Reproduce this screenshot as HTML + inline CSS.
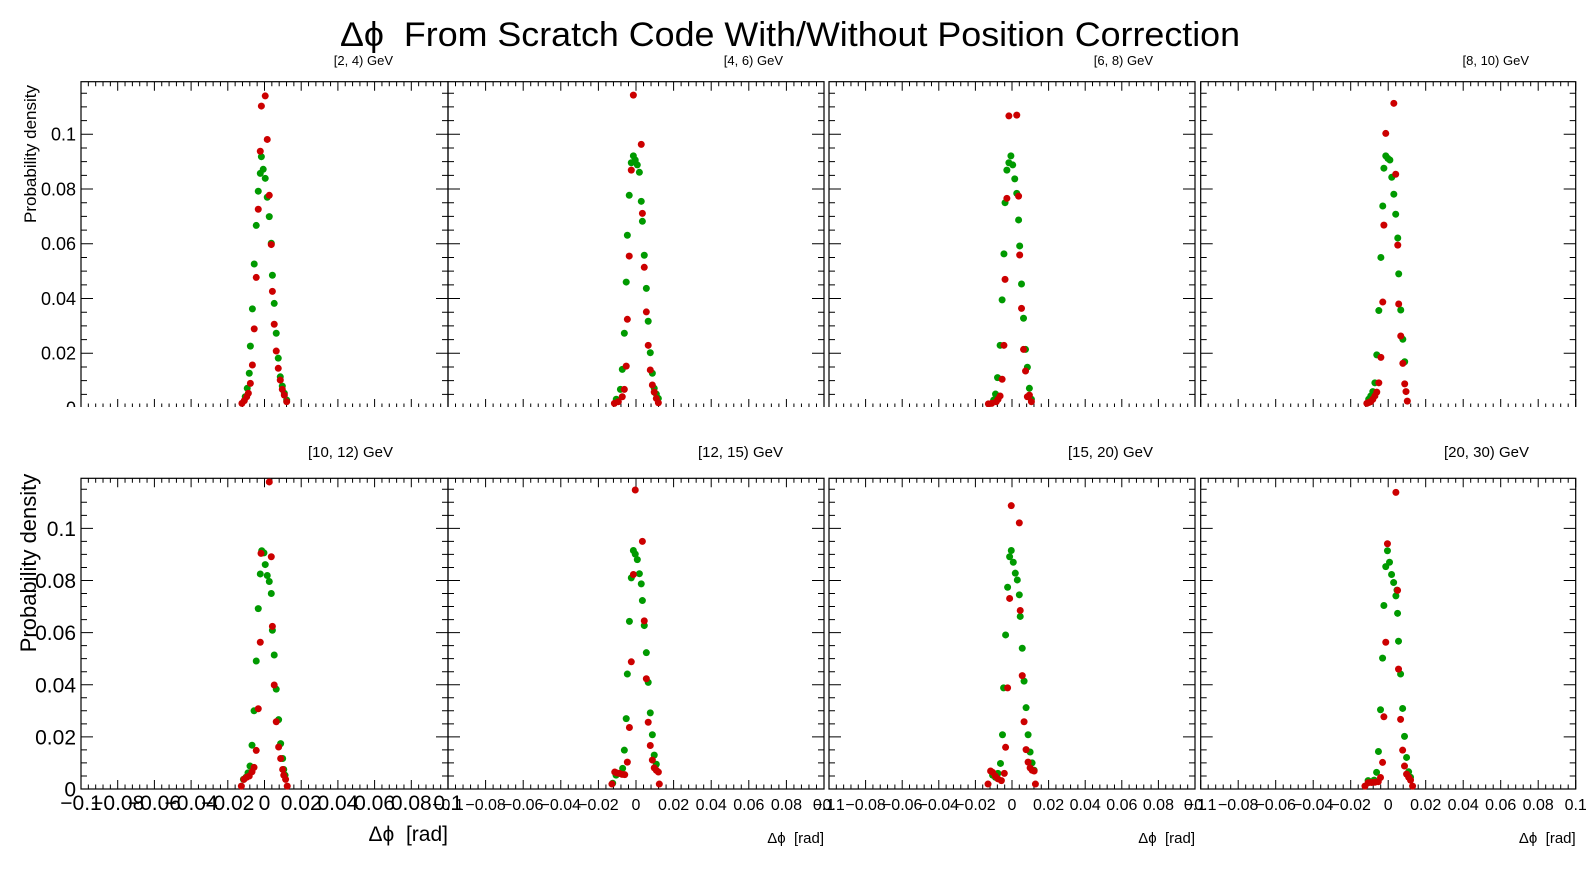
<!DOCTYPE html>
<html><head><meta charset="utf-8"><style>
html,body{margin:0;padding:0;background:#fff;}
svg{display:block;font-family:"Liberation Sans",sans-serif;}
</style></head><body>
<svg id="chart" width="1596" height="872" viewBox="0 0 1596 872" xmlns="http://www.w3.org/2000/svg">
<rect width="1596" height="872" fill="#fff"/>
<text x="790" y="46" font-size="34" text-anchor="middle" textLength="900" lengthAdjust="spacingAndGlyphs">Δϕ&#160;&#160;From Scratch Code With/Without Position Correction</text>
<defs><clipPath id="toprow"><rect x="0" y="0" width="1596" height="407"/></clipPath></defs>
<g id="top" clip-path="url(#toprow)"></g>
<g id="bot"></g>
</svg>
<script>
const titles = ["[2, 4) GeV","[4, 6) GeV","[6, 8) GeV","[8, 10) GeV","[10, 12) GeV","[12, 15) GeV","[15, 20) GeV","[20, 30) GeV"];
const xTickLabels = ["\u22120.1","\u22120.08","\u22120.06","\u22120.04","\u22120.02","0","0.02","0.04","0.06","0.08","0.1"];
const xTickValues = [-0.1,-0.08,-0.06,-0.04,-0.02,0,0.02,0.04,0.06,0.08,0.1];
const yTickLabels = ["0","0.02","0.04","0.06","0.08","0.1"];
const yTickValues = [0,0.02,0.04,0.06,0.08,0.1];

const p1RedX = [0.0004,-0.0017,0.0015,-0.0023,0.0026,-0.0034,0.0037,-0.0045,0.0043,-0.0056,0.0053,-0.0066,0.0064,0.0075,-0.0077,0.0086,-0.0088,0.0097,0.0108,-0.0097,-0.011,-0.0123,0.0121];
const p1RedY = [0.114,0.1103,0.0981,0.0938,0.0777,0.0726,0.0597,0.0477,0.0426,0.0289,0.0306,0.0157,0.0208,0.0145,0.009,0.0102,0.0054,0.0068,0.0047,0.0041,0.0027,0.0017,0.0023];
const p1GreenX = [-0.0017,-0.0007,-0.0023,0.0004,-0.0034,0.0015,0.0026,-0.0045,0.0037,-0.0056,0.0043,0.0053,-0.0066,0.0064,-0.0077,0.0075,-0.0083,0.0086,-0.0094,0.0097,0.0108,-0.0105,0.0121];
const p1GreenY = [0.0918,0.0872,0.0857,0.0839,0.0792,0.077,0.0699,0.0667,0.0602,0.0526,0.0485,0.0382,0.0362,0.0273,0.0226,0.0182,0.0127,0.0114,0.0072,0.008,0.0054,0.0041,0.0029];

const p2RedX = [-0.0014,0.0028,-0.0025,0.0034,-0.0036,0.0044,0.0055,-0.0046,0.0065,-0.0052,0.0076,0.0087,-0.0062,0.0097,-0.0073,0.0108,-0.0094,-0.0115,0.0119];
const p2RedY = [0.1143,0.0963,0.0869,0.0711,0.0555,0.0514,0.0351,0.0324,0.0229,0.0153,0.0139,0.0084,0.0068,0.0058,0.0041,0.0035,0.0023,0.0017,0.0019];
const p2GreenX = [-0.0014,-0.0025,-0.0004,0.0007,0.0018,-0.0036,0.0028,0.0034,-0.0046,0.0044,-0.0052,0.0055,0.0065,-0.0062,0.0076,-0.0073,0.0087,-0.0083,0.0097,0.0108,-0.0105,0.0119];
const p2GreenY = [0.0921,0.0896,0.0906,0.0888,0.0861,0.0777,0.0755,0.0682,0.0631,0.0558,0.046,0.0437,0.0317,0.0273,0.0202,0.0141,0.0127,0.0068,0.0072,0.0051,0.0032,0.0035];

const p3RedX = [-0.0017,0.0026,-0.0028,0.0036,0.0042,-0.0038,0.0052,-0.0044,0.0063,0.0074,-0.0054,0.0084,-0.0065,0.0095,-0.0076,0.0106,-0.0086,-0.0111,-0.0129];
const p3RedY = [0.1067,0.107,0.0766,0.0774,0.0559,0.047,0.0364,0.0229,0.0214,0.0135,0.0105,0.0041,0.0044,0.0047,0.0032,0.0023,0.0023,0.0017,0.0015];
const p3GreenX = [-0.0006,-0.0017,0.0004,-0.0028,0.0015,0.0026,-0.0038,0.0036,0.0042,-0.0044,0.0052,-0.0054,0.0063,-0.0065,0.0074,0.0084,-0.0079,0.0095,-0.009,0.0106,-0.01];
const p3GreenY = [0.0921,0.0896,0.0888,0.0869,0.0837,0.0784,0.075,0.0687,0.0592,0.0563,0.0453,0.0395,0.0328,0.0229,0.0214,0.0149,0.0111,0.0072,0.0051,0.0032,0.0029];

const p4RedX = [0.003,-0.0013,0.004,-0.0023,0.0051,-0.0029,0.0056,0.0067,-0.0039,0.0078,-0.005,0.0088,-0.0061,0.0095,-0.0071,-0.0082,-0.0093,-0.0104,-0.0114,0.0102];
const p4RedY = [0.1113,0.1003,0.0854,0.0668,0.0595,0.0387,0.038,0.0263,0.0185,0.0163,0.0092,0.0088,0.0058,0.006,0.0044,0.0032,0.0023,0.002,0.0017,0.0025];
const p4GreenX = [-0.0013,-0.0002,0.0009,-0.0023,0.0019,0.003,-0.0029,0.004,0.0051,-0.0039,0.0056,0.0067,-0.005,0.0078,-0.0061,0.0088,-0.0071,-0.0082,-0.0093,-0.0104];
const p4GreenY = [0.0921,0.0912,0.0906,0.0876,0.0843,0.0781,0.0738,0.0708,0.0621,0.055,0.049,0.0358,0.0356,0.0251,0.0194,0.0169,0.0092,0.006,0.0044,0.0032];

const p5RedX = [0.0026,-0.0019,0.0037,0.0043,-0.0023,0.0053,-0.0034,0.0064,-0.0045,0.0077,0.0088,-0.0057,0.0099,-0.0068,0.0105,-0.0083,-0.0097,-0.0112,0.0115,-0.0126,0.0124];
const p5RedY = [0.1178,0.0904,0.0891,0.0624,0.0563,0.0399,0.0308,0.0258,0.0148,0.0161,0.0117,0.0083,0.0075,0.0066,0.0053,0.005,0.0045,0.0037,0.0037,0.0011,0.0011];
const p5GreenX = [-0.0015,-0.0003,0.0004,-0.0023,0.0015,0.0026,0.0037,-0.0034,0.0043,-0.0045,0.0053,0.0064,-0.0057,0.0077,-0.0068,0.0088,0.0099,-0.0079,0.0105,-0.009,0.0112,-0.0101,-0.0115];
const p5GreenY = [0.0914,0.0906,0.0861,0.0825,0.0819,0.0796,0.075,0.0692,0.0609,0.0491,0.0514,0.0383,0.03,0.0266,0.0168,0.0174,0.0117,0.0088,0.0075,0.0062,0.0053,0.0045,0.0037];

const p6RedX = [-0.0004,0.0034,-0.0014,0.0044,-0.0025,0.0055,-0.0035,0.0065,0.0076,-0.0046,0.0087,0.0097,0.0108,0.0119,-0.0113,-0.0103,-0.0089,-0.0074,-0.006,-0.0128,0.0124];
const p6RedY = [0.1147,0.095,0.0823,0.0645,0.0488,0.0423,0.0236,0.0256,0.0167,0.0103,0.0111,0.0081,0.0072,0.0065,0.0065,0.0062,0.006,0.0056,0.0055,0.0019,0.0019];
const p6GreenX = [-0.0014,-0.0004,0.0007,0.0018,-0.0025,0.0028,0.0034,-0.0035,0.0044,0.0055,-0.0046,0.0065,0.0076,-0.0052,0.0087,-0.0062,0.0097,0.0108,-0.0071,-0.0085,-0.0106,-0.0124];
const p6GreenY = [0.0915,0.0901,0.088,0.0826,0.081,0.0787,0.0723,0.0643,0.0627,0.0523,0.0441,0.0409,0.0292,0.027,0.0208,0.0149,0.013,0.0095,0.0079,0.006,0.0053,0.0022];

const p7RedX = [-0.0004,0.004,-0.0013,0.0045,0.0056,-0.0024,0.0066,-0.0035,0.0077,0.0088,-0.0042,0.0099,0.011,0.0121,-0.0117,-0.0106,-0.0091,-0.0077,-0.0058,-0.0131,0.0128];
const p7RedY = [0.1087,0.1021,0.0731,0.0685,0.0435,0.0388,0.0258,0.016,0.0151,0.0103,0.006,0.0081,0.0072,0.0069,0.0069,0.0064,0.005,0.0039,0.0032,0.0019,0.0019];
const p7GreenX = [-0.0004,-0.0013,0.0007,0.0018,0.0029,-0.0024,0.004,0.0045,-0.0035,0.0056,0.0066,-0.0046,0.0077,0.0088,-0.0052,0.0099,-0.0063,0.011,0.0121,-0.0077,-0.0091,-0.0106];
const p7GreenY = [0.0915,0.0891,0.087,0.0828,0.0802,0.0774,0.0745,0.0662,0.0591,0.054,0.0414,0.0388,0.0312,0.0208,0.0208,0.0142,0.0098,0.01,0.0072,0.006,0.0045,0.0053];

const p8RedX = [0.0041,-0.0004,0.005,-0.0013,0.0055,-0.0023,0.0066,0.0077,-0.003,0.0087,0.0098,0.0109,0.0119,0.013,-0.0041,-0.0053,-0.0071,-0.0089,-0.0107,-0.0124];
const p8RedY = [0.1138,0.0941,0.0762,0.0563,0.046,0.0277,0.0267,0.0149,0.0102,0.0088,0.0057,0.0045,0.0034,0.0011,0.0044,0.0028,0.0026,0.0025,0.0024,0.0011];
const p8GreenX = [-0.0004,0.0007,-0.0013,0.0018,0.0029,0.0047,0.0041,-0.0023,0.005,0.0055,-0.003,0.0066,-0.0041,0.0077,0.0087,-0.0052,0.0098,-0.0062,0.0109,0.0119,-0.0075,-0.0107];
const p8GreenY = [0.0914,0.087,0.0853,0.0823,0.0792,0.0763,0.0741,0.0704,0.0674,0.0567,0.0502,0.0441,0.0304,0.0309,0.0202,0.0144,0.0121,0.0064,0.0066,0.0045,0.0034,0.0032];

const redXs=[p1RedX,p2RedX,p3RedX,p4RedX,p5RedX,p6RedX,p7RedX,p8RedX];
const redYs=[p1RedY,p2RedY,p3RedY,p4RedY,p5RedY,p6RedY,p7RedY,p8RedY];
const greenXs=[p1GreenX,p2GreenX,p3GreenX,p4GreenX,p5GreenX,p6GreenX,p7GreenX,p8GreenX];
const greenYs=[p1GreenY,p2GreenY,p3GreenY,p4GreenY,p5GreenY,p6GreenY,p7GreenY,p8GreenY];

const NS="http://www.w3.org/2000/svg";
const colL=[81,448,829,1200.7], colR=[448,824,1195,1575.7];
const rowTop=[81.7,478.3], rowZero=[408,789];
const XMIN=-0.1,XMAX=0.1,YMAX=0.1192;
function mk(tag,attrs,parent){const e=document.createElementNS(NS,tag);for(const k in attrs)e.setAttribute(k,attrs[k]);parent.appendChild(e);return e;}

for(let p=0;p<8;p++){
  const row=p<4?0:1, col=p%4;
  const parent=document.getElementById(row===0?'top':'bot');
  const L=colL[col],R=colR[col],T=rowTop[row],B=rowZero[row];
  const sx=v=>L+(v-XMIN)/(XMAX-XMIN)*(R-L);
  const sy=v=>B-v/YMAX*(B-T);
  const g=mk('g',{},parent);
  
  
  const fr=mk('rect',{x:L,y:T,width:R-L,height:B-T,fill:'none',stroke:'#000','stroke-width':1.2},g);
  
  
  let d='';
  for(let i=0;i<=50;i++){const v=XMIN+i*0.004;const x=sx(v);const len=(i%5===0)?9:4.5;d+=`M${x} ${B}v${-len}M${x} ${T}v${len}`;}
  for(let i=0;i*0.005<=YMAX+1e-9;i++){const v=i*0.005;const y=sy(v);const len=(i%4===0)?12:6;d+=`M${L} ${y}h${len}M${R} ${y}h${-len}`;}
  const tk=mk('path',{d:d,stroke:'#000','stroke-width':1,fill:'none'},g);
  
  
  const subX=[393,783,1153,1529][col], subY=row===0?65:457, subFs=row===0?13:15;
  const st=mk('text',{x:subX,y:subY,'font-size':subFs,'text-anchor':'end'},g);
  st.textContent=titles[p];
  
  
  if(col===0){
    const fs=row===0?18:21;
    yTickValues.forEach((v,i)=>{
      const t=mk('text',{x:L-5,y:sy(v)+fs*0.36,'font-size':fs,'text-anchor':'end'},g);
      t.textContent=yTickLabels[i];
      
      
    });
    const yt=mk('text',{x:36,y:row===0?154:563,'font-size':row===0?17:22,'text-anchor':'middle',transform:`rotate(-90 36 ${row===0?154:563})`},g);
    yt.textContent='Probability density';
    
    
  }
  if(row===1){
    const fs=col===0?21:16;
    xTickValues.forEach((v,i)=>{
      const t=mk('text',{x:sx(v),y:B+21,'font-size':fs,'text-anchor':'middle'},g);
      t.textContent=xTickLabels[i];
      
      
    });
    const xt=mk('text',{x:R,y:col===0?841:843,'font-size':col===0?21:15,'text-anchor':'end'},g);
    xt.textContent='Δϕ\u00a0\u00a0[rad]';
    
    
  }
  [[greenXs,greenYs,'#009a00','green'],[redXs,redYs,'#cc0000','red']].forEach(([XS,YS,c,nm])=>{
    const sg=mk('g',{fill:c},g);
    
    
    XS[p].forEach((xv,i)=>{
      const ci=mk('circle',{cx:sx(xv),cy:sy(YS[p][i]),r:3.5},sg);
      
      
    });
  });
}
</script>
</body></html>
